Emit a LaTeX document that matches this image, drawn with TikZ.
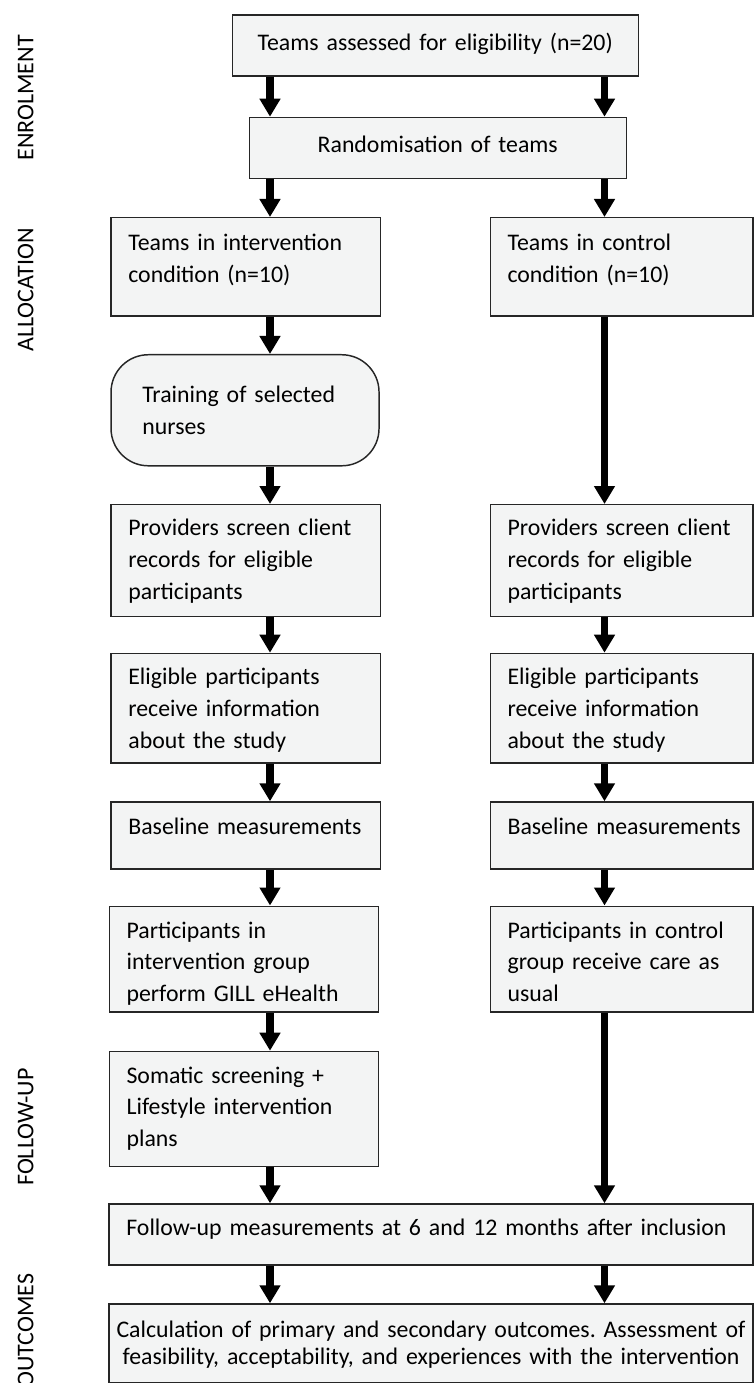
\documentclass[tikz,border=0pt]{standalone}
\usepackage{fontspec}
\setmainfont{Carlito}
\usepackage{tikz}
\usetikzlibrary{arrows.meta,calc}

\definecolor{boxfill}{RGB}{243,244,244}
\definecolor{boxline}{RGB}{38,38,38}
\newcommand{\boxfont}{\fontsize{17.85pt}{23.8pt}\selectfont}
\newcommand{\phasefont}{\fontsize{18pt}{21pt}\selectfont}
\hyphenpenalty=10000
\frenchspacing

\tikzset{
  stagebox/.style={draw=boxline, fill=boxfill, line width=1.1pt, align=left, anchor=north west,
    inner xsep=13pt, inner ysep=0pt, font=\boxfont},
  leftbox/.style={stagebox, text width=176pt},
  rightbox/.style={stagebox, text width=171pt},
  arr/.style={line width=5.6pt, -{Triangle[length=13.5pt,width=15pt]}},
  phase/.style={rotate=90, anchor=base, font=\phasefont}
}

\begin{document}
\begin{tikzpicture}[x=0.75pt,y=0.75pt,yscale=-1]
    \useasboundingbox (0,0) rectangle (753,1383);
    \coordinate (colL) at (270,0);
    \coordinate (colR) at (604.5,0);
    
    %Shape: Rectangle [enrolment]
    \node[stagebox, align=center, text width=278.5pt, text height=26.25pt, text depth=19.5pt] (assess) at (231.5,14.5) {Teams assessed for eligibility (n=20)};
    %Shape: Rectangle
    \node[stagebox, align=center, text width=256.75pt, text height=26.25pt, text depth=19.7pt] (rand) at (248.5,116.7) {Randomisation of teams};
    
    %Shape: Rectangle [allocation]
    \node[leftbox, text height=24.75pt, text depth=49.1pt] (tint) at (110.3,217) {Teams in intervention\\condition (n=10)};
    %Shape: Rectangle
    \node[rightbox, text height=24.75pt, text depth=49.1pt] (tcon) at (489.5,217) {Teams in control\\condition (n=10)};
    %Shape: Rounded Rect
    \node[stagebox, rounded corners=28pt, inner xsep=23.5pt, text width=154pt, text height=35.8pt, text depth=47.5pt] (train) at (110.3,354) {Training of selected\\nurses};
    
    %Shape: Rectangle
    \node[leftbox, text height=23.25pt, text depth=60.5pt] (screenL) at (110.3,504) {Providers screen client\\records for eligible\\participants};
    %Shape: Rectangle
    \node[rightbox, text height=23.25pt, text depth=60.5pt] (screenR) at (489.5,504) {Providers screen client\\records for eligible\\participants};
    %Shape: Rectangle
    \node[leftbox, text height=23.5pt, text depth=58.6pt] (eligL) at (110.3,652.7) {Eligible participants\\receive information\\about the study};
    %Shape: Rectangle
    \node[rightbox, text height=23.5pt, text depth=58.6pt] (eligR) at (489.5,652.7) {Eligible participants\\receive information\\about the study};
    %Shape: Rectangle
    \node[leftbox, text height=24pt, text depth=26.25pt] (baseL) at (110.3,801.3) {Baseline measurements};
    %Shape: Rectangle
    \node[rightbox, text height=24pt, text depth=26.25pt] (baseR) at (489.5,801.3) {Baseline~measurements};
    %Shape: Rectangle
    \node[leftbox, text height=23.85pt, text depth=55.3pt] (partL) at (108.5,905.5) {Participants in\\intervention group\\perform GILL eHealth};
    % last line is cut off at the box bottom
    \fill[boxfill] ($(partL.south west)+(1.2,-8)$) rectangle ($(partL.south east)+(-1.2,-1.2)$);
    %Shape: Rectangle
    \node[rightbox, text height=23.85pt, text depth=55.3pt] (partR) at (489.5,905.5) {Participants in control\\group receive care as\\usual};
    
    %Shape: Rectangle [follow-up]
    \node[leftbox, text height=23.7pt, text depth=62.5pt] (somat) at (108.5,1050.7) {Somatic screening +\\Lifestyle intervention\\plans};
    %Shape: Rectangle
    \node[stagebox, text width=457pt, text height=23.8pt, text depth=22pt] (follow) at (108.3,1203.3) {Follow-up measurements at 6 and 12 months after inclusion};
    
    %Shape: Rectangle [outcomes]
    \node[stagebox, align=center, inner xsep=4pt, text width=475pt, text height=25pt, text depth=34.2pt,
      font=\fontsize{17.85pt}{20.25pt}\selectfont] (calc) at (108.3,1303.3) {Calculation of primary and secondary outcomes. Assessment of\\feasibility, acceptability, and experiences with the intervention};
    
    %Straight Lines [left column]
    \draw[arr] (assess.south -| colL) -- (rand.north -| colL);
    \draw[arr] (rand.south -| colL) -- (tint.north -| colL);
    \draw[arr] (tint.south -| colL) -- (train.north -| colL);
    \draw[arr] (train.south -| colL) -- (screenL.north -| colL);
    \draw[arr] (screenL.south -| colL) -- (eligL.north -| colL);
    \draw[arr] (eligL.south -| colL) -- (baseL.north -| colL);
    \draw[arr] (baseL.south -| colL) -- (partL.north -| colL);
    \draw[arr] (partL.south -| colL) -- (somat.north -| colL);
    \draw[arr] (somat.south -| colL) -- (follow.north -| colL);
    \draw[arr] (follow.south -| colL) -- (calc.north -| colL);
    %Straight Lines [right column]
    \draw[arr] (assess.south -| colR) -- (rand.north -| colR);
    \draw[arr] (rand.south -| colR) -- (tcon.north -| colR);
    \draw[arr] (tcon.south -| colR) -- (screenR.north -| colR);
    \draw[arr] (screenR.south -| colR) -- (eligR.north -| colR);
    \draw[arr] (eligR.south -| colR) -- (baseR.north -| colR);
    \draw[arr] (baseR.south -| colR) -- (partR.north -| colR);
    \draw[arr] (partR.south -| colR) -- (follow.north -| colR);
    \draw[arr] (follow.south -| colR) -- (calc.north -| colR);
    
    % Text Node
    \node[phase] (enrolment) at (33.3,98) {ENROLMENT};
    % Text Node
    \node[phase] (allocation) at (33.3,290) {ALLOCATION};
    % Text Node
    \node[phase] (followup) at (33.3,1127) {FOLLOW-UP};
    % Text Node
    \node[phase] (outcomes) at (33.3,1330.5) {OUTCOMES};
    
\end{tikzpicture}
\end{document}
